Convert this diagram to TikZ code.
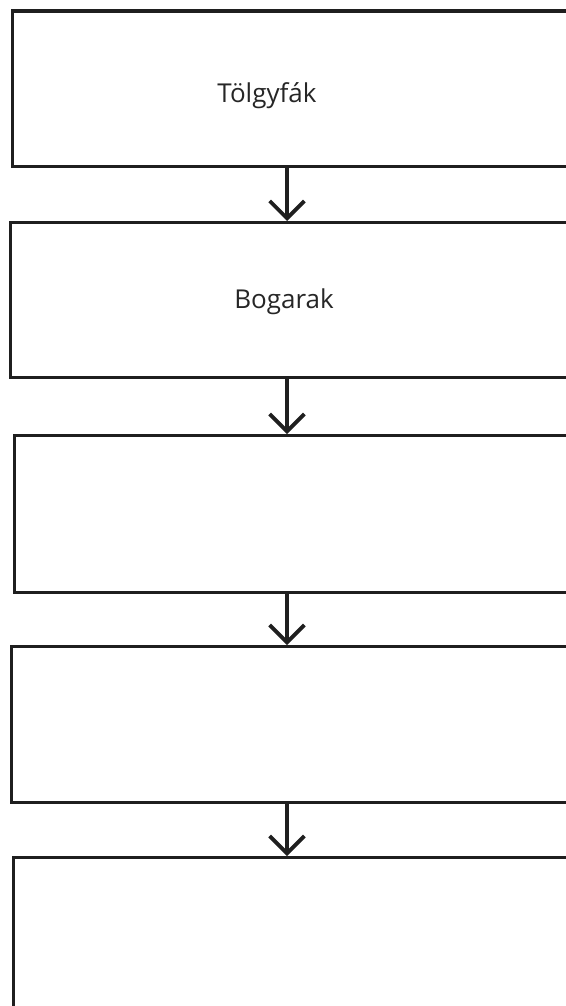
\documentclass[tikz,border=0pt]{standalone}
\usepackage{fontspec}
\setmainfont{Open Sans}
\usetikzlibrary{arrows.meta}
\begin{document}
\begin{tikzpicture}[x=0.75pt,y=-0.75pt,
  chainbox/.style={draw=black!88, line width=2.5pt, rectangle, inner sep=0pt, anchor=north west, minimum width=440pt},
  link/.style={draw=black!88, line width=2.6pt, -{Straight Barb[length=13pt,width=26pt,line width=2.9pt]}},
  label/.style={anchor=base, font=\fontsize{19.5pt}{23pt}\selectfont, text=black!85}]
  \clip (0,0) rectangle (566,1006);
  \useasboundingbox (0,0) rectangle (566,1006);
  % five stacked boxes, running past the right edge
  \node[chainbox, minimum height=116.6pt] (b1) at (11,9.5) {};
  \node[chainbox, minimum height=116.2pt] (b2) at (9,221) {};
  \node[chainbox, minimum height=117.7pt] (b3) at (13,434) {};
  \node[chainbox, minimum height=117pt] (b4) at (10,645) {};
  \node[chainbox, minimum height=200pt] (b5) at (12,856) {};
  % labels
  \node[label] (t1) at (267,103) {Tölgyfák};
  \node[label] (t2) at (284,308) {Bogarak};
  % vertical connectors
  \coordinate (ax) at (287,0);
  \draw[link] (b1.south -| ax) -- (b2.north -| ax);
  \draw[link] (b2.south -| ax) -- (b3.north -| ax);
  \draw[link] (b3.south -| ax) -- (b4.north -| ax);
  \draw[link] (b4.south -| ax) -- (b5.north -| ax);
\end{tikzpicture}
\end{document}
